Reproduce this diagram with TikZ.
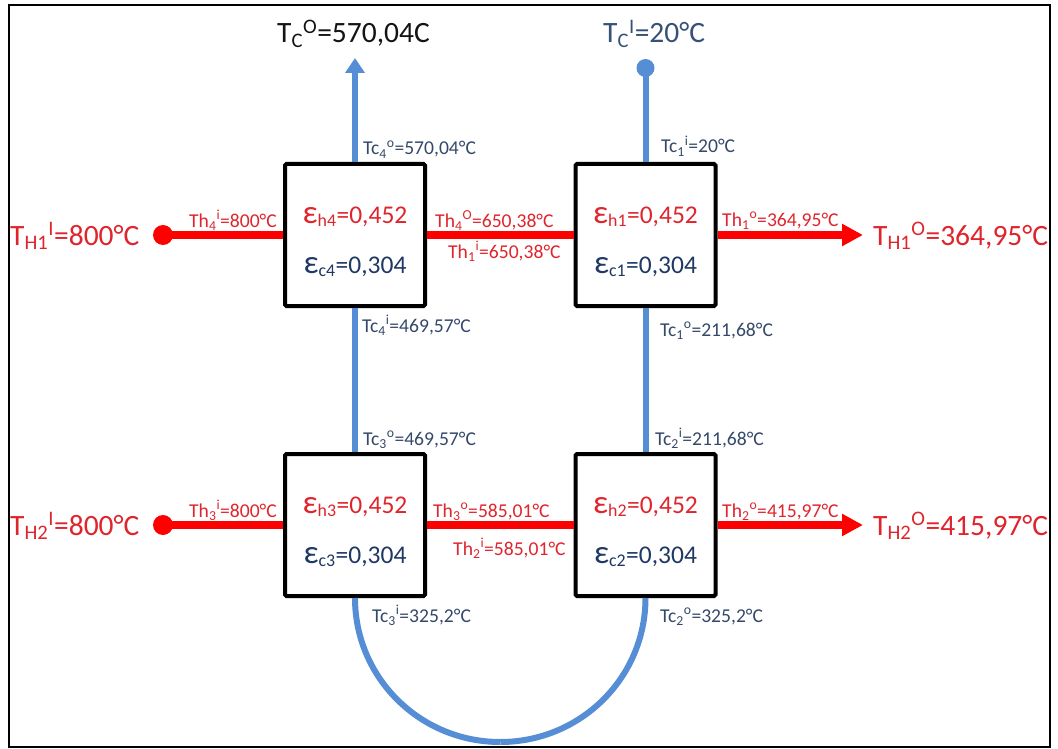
\documentclass[tikz,border=0pt]{standalone}
\usepackage{fontspec}
\setmainfont{Carlito}
\usetikzlibrary{arrows.meta}
\definecolor{hotline}{RGB}{255,0,0}
\definecolor{hottext}{RGB}{224,36,44}
\definecolor{coldline}{RGB}{85,142,213}
\definecolor{navy}{RGB}{31,56,100}
\definecolor{coldtext}{RGB}{52,72,105}
\definecolor{tcitext}{RGB}{55,80,118}
\definecolor{darktext}{RGB}{20,20,20}
\newcommand\sbsp[3]{#1\textsubscript{#2}\textsuperscript{#3}}
\newcommand\myeps{{\fontsize{33}{33}\selectfont ε}}
\begin{document}
\begin{tikzpicture}[x=1pt,y=-1pt,
  hx/.style={draw=black, fill=white, line width=4pt, minimum width=140pt, minimum height=142pt, rounded corners=1.5pt, inner sep=0pt},
  hotpipe/.style={draw=hotline, line width=8pt},
  coldpipe/.style={draw=coldline, line width=6pt},
  small/.style={font=\fontsize{19.6}{19.6}\selectfont, inner sep=0pt, anchor=base west},
  hlab/.style={small, text=hottext},
  clab/.style={small, text=coldtext},
  effh/.style={font=\fontsize{25.5}{25.5}\selectfont, text=hottext, anchor=base, inner sep=0pt},
  effc/.style={font=\fontsize{25.5}{25.5}\selectfont, text=navy, anchor=base, inner sep=0pt},
  big/.style={font=\fontsize{29.5}{29.5}\selectfont, anchor=base west, inner sep=0pt}]
\useasboundingbox (0,0) rectangle (1058,749);
\draw[line width=2pt] (9,5) rectangle (1050,747);

% exchangers
\node[hx] (hx4) at (355,235) {};
\node[hx] (hx1) at (645.5,235) {};
\node[hx] (hx3) at (355,525) {};
\node[hx] (hx2) at (645.5,525) {};

% end points
\coordinate (h1in) at (163,235);
\coordinate (h1out) at (863,235);
\coordinate (h2in) at (163,525);
\coordinate (h2out) at (863,525);
\coordinate (cout) at (355,58);
\coordinate (cin) at (645.5,68);
\coordinate (ubot) at (500.25,742);

% hot pipes
\fill[hotline] (h1in) circle (10);
\fill[hotline] (h2in) circle (10);
\draw[hotpipe] (h1in) -- (hx4.west);
\draw[hotpipe] (hx4.east) -- (hx1.west);
\draw[hotpipe, -{Triangle[length=21pt,width=21pt]}] (hx1.east) -- (h1out);
\draw[hotpipe] (h2in) -- (hx3.west);
\draw[hotpipe] (hx3.east) -- (hx2.west);
\draw[hotpipe, -{Triangle[length=21pt,width=21pt]}] (hx2.east) -- (h2out);

% cold pipes
\fill[coldline] (cin) circle (9);
\draw[coldpipe] (cin) -- (hx1.north);
\draw[coldpipe] (hx1.south) -- (hx2.north);
\draw[coldpipe] (hx2.south) .. controls +(0,80) and +(80,0) .. (ubot);
\draw[coldpipe] (ubot) .. controls +(-80,0) and +(0,80) .. (hx3.south);
\draw[coldpipe] (hx3.north) -- (hx4.south);
\draw[coldpipe, -{Triangle[length=15pt,width=19pt]}] (hx4.north) -- (cout);

% effectiveness
\node[effh] (eh4) at (355,223) {\myeps\textsubscript{h4}=0,452};
\node[effc] (ec4) at (355,273) {\myeps\textsubscript{c4}=0,304};
\node[effh] (eh1) at (645.5,223) {\myeps\textsubscript{h1}=0,452};
\node[effc] (ec1) at (645.5,273) {\myeps\textsubscript{c1}=0,304};
\node[effh] (eh3) at (355,513) {\myeps\textsubscript{h3}=0,452};
\node[effc] (ec3) at (355,563) {\myeps\textsubscript{c3}=0,304};
\node[effh] (eh2) at (645.5,513) {\myeps\textsubscript{h2}=0,452};
\node[effc] (ec2) at (645.5,563) {\myeps\textsubscript{c2}=0,304};

% big labels
\node[big, text=hottext] (th1i) at (10,245) {\sbsp{T}{H1}{I}=800°C};
\node[big, text=hottext] (th1o) at (873,245) {\sbsp{T}{H1}{O}=364,95°C};
\node[big, text=hottext] (th2i) at (10,535) {\sbsp{T}{H2}{I}=800°C};
\node[big, text=hottext] (th2o) at (873,535) {\sbsp{T}{H2}{O}=415,97°C};
\node[big, text=darktext] (tco) at (277,43) {\sbsp{T}{C}{O}=570,04C};
\node[big, text=tcitext] (tci) at (603,43) {\sbsp{T}{C}{I}=20°C};

% small labels
\node[clab] (l1) at (363,155) {\sbsp{Tc}{4}{o}=570,04°C};
\node[clab] (l2) at (661,153) {\sbsp{Tc}{1}{i}=20°C};
\node[hlab] (l3) at (189,227) {\sbsp{Th}{4}{i}=800°C};
\node[hlab] (l4) at (435,227) {\sbsp{Th}{4}{O}=650,38°C};
\node[hlab] (l5) at (448,258) {\sbsp{Th}{1}{i}=650,38°C};
\node[hlab] (l6) at (722,226) {\sbsp{Th}{1}{o}=364,95°C};
\node[clab] (l7) at (362,332) {\sbsp{Tc}{4}{i}=469,57°C};
\node[clab] (l8) at (660,336) {\sbsp{Tc}{1}{o}=211,68°C};
\node[clab] (l9) at (363,445) {\sbsp{Tc}{3}{o}=469,57°C};
\node[clab] (l10) at (655,445) {\sbsp{Tc}{2}{i}=211,68°C};
\node[hlab] (l11) at (189,517) {\sbsp{Th}{3}{i}=800°C};
\node[hlab] (l12) at (433,517) {\sbsp{Th}{3}{o}=585,01°C};
\node[hlab] (l13) at (453,555) {\sbsp{Th}{2}{i}=585,01°C};
\node[hlab] (l14) at (722,517) {\sbsp{Th}{2}{o}=415,97°C};
\node[clab] (l15) at (372,622) {\sbsp{Tc}{3}{i}=325,2°C};
\node[clab] (l16) at (660,622) {\sbsp{Tc}{2}{o}=325,2°C};
\end{tikzpicture}
\end{document}
